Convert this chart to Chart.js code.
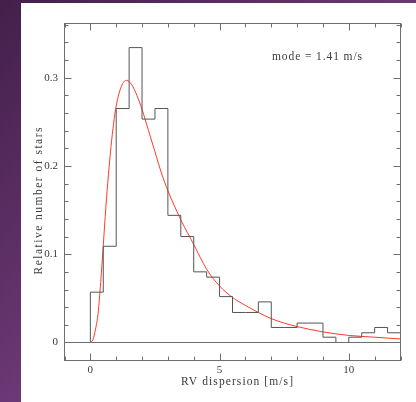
<!DOCTYPE html>
<html>
<head>
<meta charset="utf-8">
<script src="https://cdn.jsdelivr.net/npm/chart.js@4"></script>
<style>
  html, body { margin: 0; padding: 0; }
  body {
    width: 416px; height: 402px; overflow: hidden; position: relative;
    background: linear-gradient(to bottom right, #43204a, #6b3774 50%, #84468f);
  }
  #paper { position: absolute; left: 21px; top: 3px; width: 395px; height: 399px; background: #fff; }
  #wrap { position: absolute; left: 0; top: 0; width: 416px; height: 402px; }
</style>
</head>
<body>
<div id="paper"></div>
<div id="wrap"><canvas id="rvChart" width="416" height="402"></canvas></div>
<script>
// histogram: bins of 0.5 m/s starting at 0
const binWidth = 0.5;
const binHeights = [0.057, 0.109, 0.265, 0.334, 0.253, 0.265, 0.144, 0.120, 0.080, 0.074,
                    0.052, 0.034, 0.034, 0.046, 0.017, 0.017, 0.022, 0.022, 0.006, 0.000,
                    0.006, 0.011, 0.017, 0.011];

// fitted curve
const curveX = [0, 0.1, 0.2, 0.3, 0.4, 0.5, 0.6, 0.7, 0.8, 0.9, 1.0, 1.2, 1.4, 1.6, 1.8, 2.0,
                2.25, 2.5, 2.75, 3.0, 3.5, 4.0, 4.5, 5.0, 5.5, 6.0, 6.5, 7.0, 7.5, 8.0, 9.0, 10.0, 11.0, 12.0];
const curveY = [0, 0.003, 0.015, 0.033, 0.068, 0.110, 0.153, 0.190, 0.222, 0.248, 0.268, 0.290, 0.297, 0.292, 0.280, 0.264,
                0.240, 0.216, 0.192, 0.172, 0.139, 0.111, 0.083, 0.064, 0.051, 0.042, 0.034, 0.027, 0.022, 0.018, 0.012, 0.008, 0.006, 0.004];

const xTickLabels = [0, 5, 10];
const yTickLabels = [0, 0.1, 0.2, 0.3];
const xTitle = "RV dispersion [m/s]";
const yTitle = "Relative number of stars";
const modeText = "mode = 1.41 m/s";

// step outline points (left edges, then closing right edge)
const histPoints = [{ x: 0, y: 0 }];
binHeights.forEach((h, i) => histPoints.push({ x: i * binWidth, y: h }));
histPoints.push({ x: binHeights.length * binWidth, y: binHeights[binHeights.length - 1] });

const curvePoints = curveX.map((x, i) => ({ x: x, y: curveY[i] }));

const serif = "'Liberation Serif', 'DejaVu Serif', serif";
const inkColor = "#3a3a3a";
const frameColor = "#6e6e6e";

// the plotting font is wide, so spread letters out to the measured width
function spacedText(ctx, text, cx, cy, width) {
    ctx.letterSpacing = "0px";
    const w = ctx.measureText(text).width;
    const sp = (width - w) / (text.length - 1);
    ctx.letterSpacing = sp + "px";
    ctx.textAlign = "left";
    ctx.fillText(text, cx - width / 2, cy);
    ctx.letterSpacing = "0px";
}

// frame with inward ticks on all four sides, plus the label text
const framePlugin = {
    id: "frame",
    afterDraw(chart) {
        const { ctx, chartArea: a, scales: { x, y } } = chart;
        ctx.save();
        ctx.strokeStyle = frameColor;
        ctx.lineWidth = 1;
        ctx.strokeRect(a.left, a.top, a.right - a.left, a.bottom - a.top);

        ctx.beginPath();
        for (let v = -1; v <= 12; v++) {
            const px = Math.round(x.getPixelForValue(v)) + 0.5;
            const len = v % 5 === 0 ? 7 : 4;
            ctx.moveTo(px, a.bottom); ctx.lineTo(px, a.bottom - len);
            ctx.moveTo(px, a.top); ctx.lineTo(px, a.top + len);
        }
        for (let k = 0; k <= 18; k++) {
            const py = Math.round(y.getPixelForValue(k * 0.02)) + 0.5;
            const len = k % 5 === 0 ? 7 : 4;
            ctx.moveTo(a.left, py); ctx.lineTo(a.left + len, py);
            ctx.moveTo(a.right, py); ctx.lineTo(a.right - len, py);
        }
        ctx.stroke();

        ctx.fillStyle = inkColor;
        ctx.font = "11.5px " + serif;
        ctx.textBaseline = "middle";
        spacedText(ctx, modeText, 317, 57, 90);
        spacedText(ctx, xTitle, 237, 382, 112);

        ctx.translate(39, 201);
        ctx.rotate(-Math.PI / 2);
        spacedText(ctx, yTitle, 0, 0, 147);
        ctx.restore();
    }
};

function renderChart() {
    const ctx = document.getElementById("rvChart").getContext("2d");

    new Chart(ctx, {
        type: "line",
        data: {
            datasets: [
                {
                    data: [{ x: -1, y: 0 }, { x: 12, y: 0 }],
                    borderColor: frameColor,
                    borderWidth: 1,
                    pointRadius: 0
                },
                {
                    data: histPoints,
                    borderColor: "#555",
                    borderWidth: 1,
                    pointRadius: 0,
                    stepped: "before"
                },
                {
                    data: curvePoints,
                    borderColor: "#ff3a28",
                    borderWidth: 1,
                    pointRadius: 0,
                    cubicInterpolationMode: "monotone"
                }
            ]
        },
        options: {
            responsive: false,
            animation: false,
            layout: { padding: { left: 0, top: 23.5, right: 15.5, bottom: 0 } },
            plugins: { legend: { display: false }, tooltip: { enabled: false } },
            scales: {
                x: {
                    type: "linear",
                    min: -1,
                    max: 12,
                    afterFit: s => { s.height = 41.5; },
                    afterBuildTicks: s => { s.ticks = xTickLabels.map(v => ({ value: v })); },
                    grid: { display: false, drawTicks: false },
                    border: { display: false },
                    ticks: { padding: 3, color: inkColor, font: { family: serif, size: 11 }, maxRotation: 0 }
                },
                y: {
                    type: "linear",
                    min: -0.0204,
                    max: 0.3613,
                    afterFit: s => { s.width = 64.5; },
                    afterBuildTicks: s => { s.ticks = yTickLabels.map(v => ({ value: v })); },
                    grid: { display: false, drawTicks: false },
                    border: { display: false },
                    ticks: {
                        padding: 6.5,
                        color: inkColor,
                        font: { family: serif, size: 11 },
                        callback: v => v === 0 ? "0" : v.toFixed(1)
                    }
                }
            }
        },
        plugins: [framePlugin]
    });
}

renderChart();
</script>
</body>
</html>
